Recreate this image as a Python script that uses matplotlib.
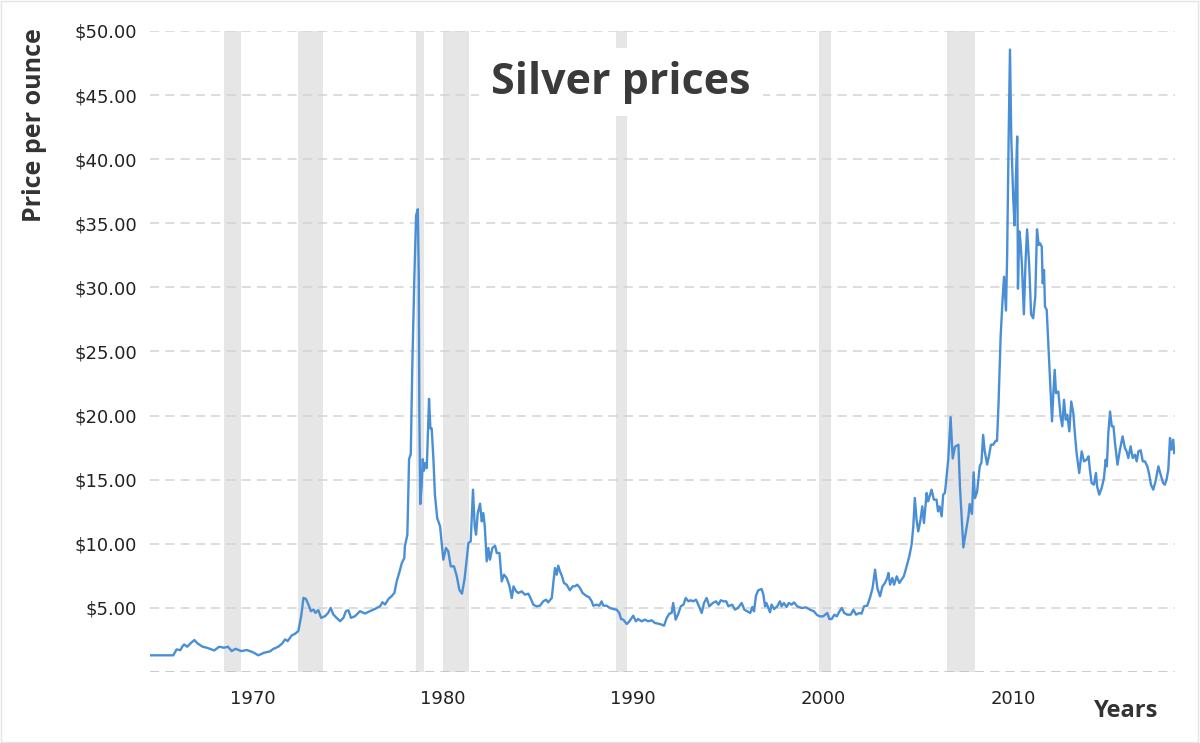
import matplotlib
matplotlib.use("Agg")
import matplotlib.pyplot as plt
from matplotlib.patches import Rectangle

# silver price (x in the chart's own year scale)
years = [
    1964.6, 1965.83, 1966.0, 1966.2, 1966.3, 1966.4, 1966.56, 1966.77, 1966.94, 1967.1,
    1967.37, 1967.6, 1967.98, 1968.24, 1968.5, 1968.7, 1968.9, 1969.1, 1969.4, 1969.7,
    1970.0, 1970.3, 1970.6, 1970.9, 1971.1, 1971.35, 1971.56, 1971.7, 1971.84, 1972.05,
    1972.2, 1972.4, 1972.55, 1972.67, 1972.8, 1972.93, 1973.06, 1973.2, 1973.3, 1973.45,
    1973.6, 1973.8, 1973.97, 1974.1, 1974.24, 1974.41, 1974.6, 1974.77, 1974.9, 1975.03,
    1975.17, 1975.38, 1975.64, 1975.9, 1976.17, 1976.43, 1976.7, 1976.82, 1976.96, 1977.14,
    1977.3, 1977.45, 1977.57, 1977.7, 1977.84, 1977.97,
    1978.0, 1978.13, 1978.22, 1978.31, 1978.39, 1978.5, 1978.59, 1978.68, 1978.73, 1978.76,
    1978.81, 1978.88, 1978.94, 1979.0, 1979.08, 1979.15, 1979.2, 1979.27, 1979.34, 1979.41,
    1979.5, 1979.58, 1979.7,
    1979.85, 1980.02, 1980.16, 1980.28, 1980.41, 1980.58, 1980.73, 1980.86, 1981.0, 1981.13,
    1981.21, 1981.34, 1981.46, 1981.58, 1981.67, 1981.74, 1981.83, 1981.95, 1982.04, 1982.12,
    1982.2, 1982.3, 1982.39, 1982.47, 1982.6, 1982.74, 1982.83, 1982.97, 1983.09, 1983.21,
    1983.35, 1983.5, 1983.62, 1983.71, 1983.85, 1983.96, 1984.14, 1984.31, 1984.49, 1984.6,
    1984.75, 1984.92, 1985.1, 1985.27, 1985.42, 1985.53, 1985.72, 1985.8, 1985.89, 1985.98,
    1986.06, 1986.15, 1986.26, 1986.36, 1986.5, 1986.67, 1986.82, 1986.94, 1987.06, 1987.2,
    1987.34, 1987.52, 1987.69, 1987.82, 1987.9, 1988.08, 1988.22, 1988.34, 1988.43, 1988.6,
    1988.78, 1988.95, 1989.13, 1989.27, 1989.36, 1989.48, 1989.66, 1989.8, 1990.0, 1990.14,
    1990.26, 1990.44, 1990.62, 1990.79, 1990.97, 1991.14, 1991.41, 1991.62, 1991.76, 1991.9,
    1992.02, 1992.1, 1992.23, 1992.37, 1992.5, 1992.64, 1992.76, 1992.9, 1993.02, 1993.16,
    1993.3, 1993.42, 1993.6, 1993.72, 1993.86, 1994.0, 1994.18, 1994.35, 1994.48, 1994.6,
    1994.75, 1994.89, 1995.0, 1995.2, 1995.35, 1995.5, 1995.7, 1995.84, 1996.0, 1996.15,
    1996.26, 1996.35, 1996.45, 1996.57, 1996.75, 1996.84, 1996.93, 1997.0, 1997.1, 1997.19,
    1997.27, 1997.4, 1997.57, 1997.71, 1997.8, 1997.92, 1998.06, 1998.18, 1998.33, 1998.45,
    1998.62, 1998.85, 1999.08, 1999.29, 1999.5, 1999.64, 1999.8, 1999.98, 2000.2, 2000.31,
    2000.43, 2000.57, 2000.7, 2000.84, 2000.96, 2001.09, 2001.25, 2001.43, 2001.57, 2001.71,
    2001.88, 2002.0, 2002.13, 2002.3, 2002.44, 2002.58, 2002.71, 2002.83, 2002.97, 2003.1,
    2003.23, 2003.35, 2003.41, 2003.5, 2003.62, 2003.71, 2003.85, 2003.99, 2004.1, 2004.22,
    2004.37, 2004.51, 2004.63, 2004.72, 2004.8, 2004.89, 2004.98, 2005.1, 2005.19, 2005.28,
    2005.42, 2005.5, 2005.68, 2005.8, 2005.94, 2006.02, 2006.1, 2006.21, 2006.29, 2006.38,
    2006.42, 2006.56, 2006.68, 2006.79, 2006.91, 2007.09, 2007.17, 2007.26, 2007.35, 2007.5,
    2007.62, 2007.68, 2007.8, 2007.89, 2007.96, 2008.07, 2008.21, 2008.3, 2008.39, 2008.47,
    2008.6, 2008.71, 2008.8, 2008.92, 2009.05, 2009.12, 2009.2, 2009.31, 2009.42, 2009.49,
    2009.59, 2009.65, 2009.73, 2009.8, 2009.87, 2009.97, 2010.04, 2010.11, 2010.18, 2010.22,
    2010.29, 2010.35, 2010.43, 2010.48, 2010.53, 2010.62, 2010.7, 2010.81, 2010.91, 2011.02,
    2011.13, 2011.22, 2011.31,
    2011.38, 2011.47, 2011.52, 2011.59, 2011.64, 2011.73, 2011.87, 2012.01, 2012.08, 2012.15,
    2012.22, 2012.34, 2012.46, 2012.55, 2012.64, 2012.73, 2012.81, 2012.92, 2013.02, 2013.13,
    2013.21, 2013.3, 2013.44, 2013.57, 2013.69, 2013.83, 2013.93, 2014.0, 2014.09, 2014.21,
    2014.32, 2014.38, 2014.49, 2014.62, 2014.74, 2014.83, 2014.89, 2014.97, 2015.06, 2015.15,
    2015.24, 2015.32, 2015.45, 2015.58, 2015.72, 2015.84, 2015.93, 2016.02, 2016.14, 2016.25,
    2016.37, 2016.46, 2016.55, 2016.67, 2016.78, 2016.89, 2017.02, 2017.12, 2017.21, 2017.33,
    2017.45, 2017.6, 2017.72, 2017.85, 2017.94, 2018.03, 2018.12, 2018.21, 2018.29, 2018.38,
    2018.43,
]
prices = [
    1.30, 1.30, 1.76, 1.70, 1.97, 2.15, 1.97, 2.28, 2.49, 2.23,
    1.97, 1.89, 1.68, 1.97, 1.89, 1.97, 1.63, 1.81, 1.63, 1.71,
    1.55, 1.30, 1.50, 1.60, 1.81, 1.97, 2.23, 2.54, 2.41, 2.85,
    2.95, 3.19, 4.35, 5.78, 5.70, 5.26, 4.74, 4.87, 4.61, 4.82,
    4.22, 4.35, 4.61, 5.00, 4.48, 4.22, 3.96, 4.22, 4.74, 4.82,
    4.22, 4.35, 4.74, 4.56, 4.74, 4.92, 5.13, 5.44, 5.26, 5.70,
    5.91, 6.17, 7.07, 7.72, 8.50, 8.89,
    9.8, 10.7, 16.6, 17.0, 23.8, 30.9, 35.6, 36.1, 30.9, 20.2,
    13.1, 14.5, 16.6, 15.7, 16.3, 15.9, 18.1, 21.3, 19.0, 19.0,
    16.6, 13.8, 12.0,
    11.36, 8.76, 9.67, 9.41, 8.24, 8.24, 7.46, 6.42, 6.11, 7.20,
    8.24, 10.06, 10.19, 14.22, 11.36, 10.71, 12.40, 13.13, 11.75, 12.40,
    11.36, 8.63, 9.67, 8.76, 9.67, 9.85, 9.28, 9.28, 7.07, 7.59,
    7.33, 6.68, 5.77, 6.68, 6.29, 6.16, 6.29, 6.03, 6.11, 5.77,
    5.25, 5.12, 5.17, 5.51, 5.64, 5.43, 5.77, 6.94, 8.11, 7.59,
    8.29, 7.85, 7.46, 6.94, 6.81, 6.37, 6.68, 6.68, 6.81, 6.55,
    6.16, 5.95, 5.82, 5.51, 5.17, 5.25, 5.17, 5.51, 5.17, 5.17,
    4.99, 4.91, 4.86, 4.60, 4.13, 4.08, 3.74, 3.95, 4.39, 3.95,
    4.13, 3.95, 4.08, 3.95, 4.03, 3.82, 3.74, 3.61, 4.21, 4.55,
    4.60, 5.38, 4.08, 4.55, 5.12, 5.25, 5.77, 5.51, 5.59, 5.51,
    5.64, 5.25, 4.60, 5.38, 5.77, 5.12, 5.38, 5.51, 5.25, 5.59,
    5.51, 5.51, 5.12, 5.25, 4.86, 4.99, 5.38, 4.86, 4.73, 4.60,
    5.07, 4.73, 5.95, 6.37, 6.47, 6.03, 5.12, 5.38, 4.99, 4.65,
    5.25, 4.91, 5.12, 5.51, 5.12, 5.38, 5.07, 5.38, 5.25, 5.43,
    5.12, 4.99, 5.04, 4.86, 4.73, 4.47, 4.34, 4.34, 4.60, 4.13,
    4.13, 4.47, 4.34, 4.73, 4.99, 4.60, 4.47, 4.47, 4.86, 4.47,
    4.60, 4.55, 5.12, 5.17, 5.77, 6.55, 7.98, 6.55, 5.90, 6.68,
    6.94, 7.33, 7.72, 6.81, 7.33, 6.81, 7.46, 6.94, 7.20, 7.46,
    8.24, 9.02, 9.93, 11.36, 13.57, 11.88, 10.97, 11.88, 12.92, 11.62,
    13.96, 13.31, 14.22, 13.44, 13.44, 12.53, 12.92, 12.14, 13.83, 13.96,
    14.49, 16.65, 19.88, 16.65, 17.57, 17.73, 14.49, 12.02, 9.71, 11.10,
    12.18, 13.10, 12.33, 15.57, 13.56, 14.03, 16.03, 16.34, 18.50, 17.26,
    16.18, 16.96, 17.73, 17.73, 18.03, 18.03, 20.96, 26.20, 29.28, 30.83,
    28.20, 32.37, 41.62, 48.55, 41.60, 37.00, 34.83, 38.53, 41.77, 29.90,
    34.37, 33.60, 31.75, 29.90, 27.90, 32.06, 34.53, 31.75, 27.90, 27.59,
    29.28, 34.53, 33.30,
    33.44, 33.18, 30.32, 31.36, 28.50, 28.25, 23.83, 19.55, 21.75, 23.57,
    21.75, 21.88, 19.94, 19.16, 21.23, 19.68, 20.06, 18.77, 21.10, 20.19,
    18.64, 17.08, 15.52, 17.21, 16.43, 16.56, 16.82, 15.78, 14.74, 14.61,
    15.52, 14.48, 13.83, 14.35, 15.13, 16.56, 16.04, 18.64, 20.32, 19.16,
    19.16, 17.86, 16.17, 17.34, 18.38, 17.47, 17.21, 16.69, 17.60, 16.69,
    16.95, 16.43, 17.21, 17.29, 16.43, 16.43, 16.04, 15.39, 14.61, 14.22,
    14.87, 16.04, 15.39, 14.74, 14.61, 15.00, 15.78, 18.25, 17.34, 18.12,
    17.08,
]

# recession shading (start, end) on the same year scale
recession_start = [1968.5, 1972.38, 1978.59, 1980.02, 1989.08, 1999.76, 2006.49]
recession_end = [1969.39, 1973.7, 1979.01, 1981.37, 1989.66, 2000.39, 2007.96]

tick_years = [1970, 1980, 1990, 2000, 2010]
price_ticks = [5, 10, 15, 20, 25, 30, 35, 40, 45, 50]

fig = plt.figure(figsize=(12, 7.43), dpi=100)
ax = fig.add_axes([0.1246, 0.0956, 0.8542, 0.8627])

for s, e in zip(recession_start, recession_end):
    ax.axvspan(s, e, color='#e6e6e6', lw=0, zorder=0)

for v in [0] + price_ticks:
    ax.axhline(v, color='#bdbdbd' if v == 0 else '#d3d3d3', lw=1.1,
               linestyle=(0, (6, 4)), zorder=1)

ax.plot(years, prices, color='#4a8fd6', lw=1.7, zorder=3)

ax.set_xlim(1964.58, 2018.45)
ax.set_ylim(0, 50)
ax.set_xticks(tick_years)
ax.set_xticklabels([str(y) for y in tick_years])
ax.set_yticks(price_ticks)
ax.set_yticklabels(['${:.2f}'.format(v) for v in price_ticks])
ax.tick_params(axis='both', length=0, labelsize=13, labelcolor='#222222')
ax.tick_params(axis='x', pad=13)
ax.tick_params(axis='y', pad=9)
for sp in ax.spines.values():
    sp.set_visible(False)

ax.text(0.46, 0.92, 'Silver prices', transform=ax.transAxes, ha='center', va='center',
        fontsize=31, fontweight='bold', family='Open Sans', color='#3a3a3a', zorder=5,
        bbox=dict(facecolor='white', edgecolor='none', pad=9))

fig.text(35 / 1200, 1 - 125 / 743, 'Price per ounce', rotation=90, ha='center', va='center',
         fontsize=18, fontweight='bold', family='Open Sans', color='#333333')
fig.text(1158 / 1200, 1 - 711 / 743, 'Years', ha='right', va='center',
         fontsize=17, fontweight='bold', family='Open Sans', color='#333333')

fig.patches.append(Rectangle((0.001, 0.001), 0.997, 0.997, transform=fig.transFigure,
                             fill=False, edgecolor='#e4e4e4', lw=1))

plt.savefig('out.png', dpi=100)
